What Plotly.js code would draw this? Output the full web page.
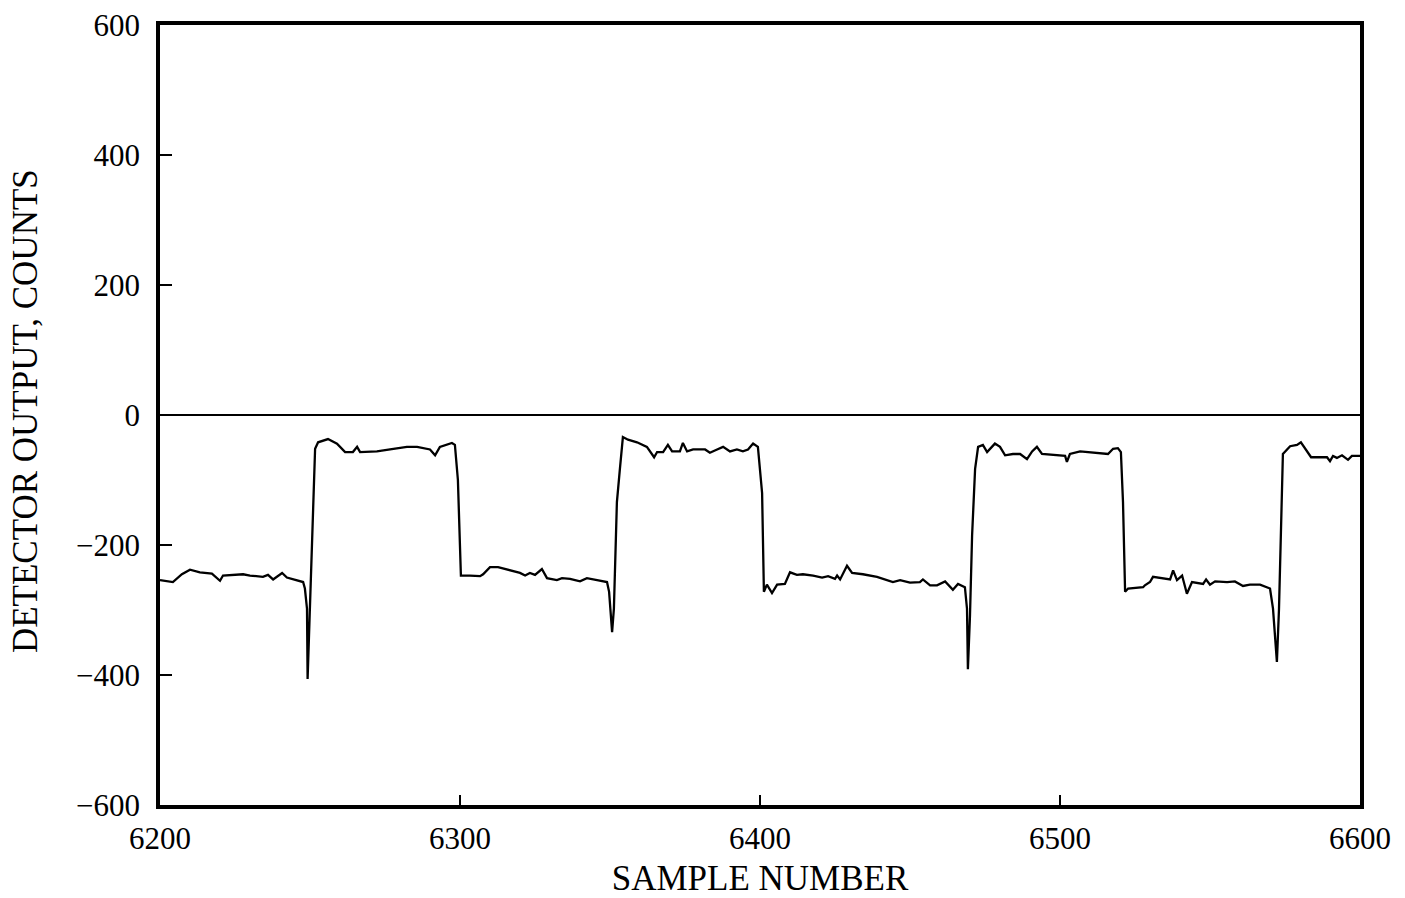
<!DOCTYPE html>
<html>
<head>
<meta charset="utf-8">
<script src="https://cdn.plot.ly/plotly-3.0.1.min.js"></script>
<style>html,body{margin:0;padding:0;background:#fff;}#chart{width:1405px;height:898px;}</style>
</head>
<body>
<div id="chart"></div>
<script>
// Sample numbers (x) and detector output in counts (y)
const sampleNumber = [
  6200, 6204.3, 6207.3, 6210, 6213.3, 6217.3, 6220, 6221, 6227.7, 6230,
  6234.3, 6236, 6237.7, 6240.7, 6242.3, 6245.7, 6247.7, 6248.3, 6249, 6249.2,
  6249.7, 6250.3, 6251, 6251.7, 6252.7, 6256, 6259, 6261.7, 6264.3, 6265.7,
  6266.7, 6272.3, 6276.7, 6282.3, 6285.7, 6290, 6291.7, 6293.3, 6297.3, 6298.3,
  6299.3, 6300.3, 6303.3, 6306.7, 6307.7, 6310, 6312.7, 6316.7, 6320, 6321.7,
  6323.3, 6325, 6327.3, 6329, 6332.3, 6334, 6336.7, 6340, 6342.3, 6345.7,
  6349, 6349.7, 6350.7, 6351.3, 6352.3, 6353.3, 6354, 6354.3, 6356, 6359,
  6362.3, 6364, 6364.7, 6365.7, 6367.7, 6369.3, 6370.7, 6373.3, 6374.3, 6375.7,
  6377.7, 6381.7, 6383.3, 6385.7, 6387.7, 6390, 6392.3, 6394.3, 6396, 6397.7,
  6399.3, 6400.7, 6401.3, 6402.3, 6404, 6405.7, 6408.3, 6410, 6412.3, 6414.3,
  6417.7, 6420.7, 6422.7, 6425, 6425.7, 6426.7, 6429, 6430.7, 6434.3, 6439,
  6442.3, 6444.3, 6446.7, 6450, 6453.3, 6454.3, 6456.7, 6459, 6461.7, 6464.3,
  6466, 6468.3, 6469, 6469.3, 6470, 6470.7, 6471.7, 6472.7, 6474.3, 6475.7,
  6478.3, 6480, 6481.7, 6484.3, 6486.7, 6489, 6490.7, 6492.3, 6494, 6499,
  6501.7, 6502.3, 6503.3, 6506.7, 6512.3, 6516, 6517.7, 6519.3, 6520.3, 6521,
  6521.7, 6522.7, 6527.7, 6528.3, 6530, 6531, 6536.7, 6537.7, 6539, 6540.7,
  6542.3, 6544, 6547.7, 6548.7, 6550, 6551.7, 6555.7, 6558.3, 6561, 6563.3,
  6566.7, 6570, 6571, 6572.3, 6573, 6573.7, 6574.3, 6576.7, 6579, 6580.3,
  6581.7, 6583.7, 6589, 6590, 6591, 6592.3, 6594, 6596, 6597.3, 6600
];
const detectorOutput = [
  -254, -257, -245, -238, -242, -244, -255, -247, -245, -247,
  -249, -246, -253, -243, -250, -254, -257, -267, -298, -406,
  -329, -237, -134, -52, -42, -37, -44, -57, -57, -49,
  -57, -56, -53, -49, -49, -53, -62, -49, -43, -46,
  -100, -247, -247, -248, -245, -234, -234, -239, -243, -247,
  -243, -246, -237, -251, -254, -251, -252, -256, -251, -254,
  -257, -272, -334, -298, -134, -83, -38, -34, -38, -42,
  -49, -60, -65, -57, -57, -46, -56, -56, -43, -56,
  -53, -53, -58, -53, -49, -56, -53, -56, -53, -44,
  -49, -120, -272, -261, -274, -261, -260, -242, -246, -245,
  -247, -250, -248, -252, -247, -253, -232, -243, -245, -249,
  -254, -257, -254, -258, -257, -253, -262, -262, -256, -269,
  -260, -265, -298, -391, -308, -185, -83, -49, -46, -57,
  -44, -49, -62, -60, -60, -68, -56, -49, -60, -62,
  -63, -72, -60, -56, -58, -60, -52, -51, -57, -134,
  -272, -267, -265, -262, -257, -249, -253, -239, -254, -247,
  -275, -257, -260, -253, -261, -256, -257, -256, -263, -261,
  -261, -267, -298, -380, -298, -145, -60, -48, -46, -42,
  -52, -65, -65, -71, -63, -66, -62, -69, -63, -63
];
const xTickVals = [6200, 6300, 6400, 6500, 6600];
const yTickVals = [-600, -400, -200, 0, 200, 400, 600];
const xTitle = 'SAMPLE NUMBER';
const yTitle = 'DETECTOR OUTPUT, COUNTS';

const serif = '"Liberation Serif", "DejaVu Serif", serif';

Plotly.newPlot('chart', [{
  x: sampleNumber,
  y: detectorOutput,
  type: 'scatter',
  mode: 'lines',
  line: {color: '#000', width: 2.3},
  hoverinfo: 'x+y'
}], {
  width: 1405,
  height: 898,
  margin: {l: 160, r: 45, t: 25, b: 93},
  paper_bgcolor: '#fff',
  plot_bgcolor: '#fff',
  showlegend: false,
  font: {family: serif, color: '#000', size: 31},
  xaxis: {
    range: [6200, 6600],
    tickvals: xTickVals,
    ticks: 'inside',
    ticklen: 10,
    tickwidth: 2,
    tickcolor: '#000',
    showline: true,
    linecolor: '#000',
    linewidth: 3.5,
    mirror: true,
    showgrid: false,
    zeroline: false,
    tickfont: {family: serif, size: 31, color: '#000'},
    ticklabelstandoff: 3,
    title: {text: xTitle, font: {family: serif, size: 35, color: '#000'}, standoff: 13}
  },
  yaxis: {
    range: [-600, 600],
    tickvals: yTickVals,
    ticks: 'inside',
    ticklen: 12,
    tickwidth: 2,
    tickcolor: '#000',
    showline: true,
    linecolor: '#000',
    linewidth: 3.5,
    mirror: true,
    showgrid: false,
    zeroline: true,
    zerolinecolor: '#000',
    zerolinewidth: 2,
    tickfont: {family: serif, size: 31, color: '#000'},
    ticklabelstandoff: 10
  },
  annotations: [{
    text: yTitle,
    xref: 'paper', yref: 'paper',
    x: -0.1125, y: 0.505,
    xanchor: 'center', yanchor: 'middle',
    textangle: -90,
    showarrow: false,
    font: {family: serif, size: 35, color: '#000'}
  }]
}, {displayModeBar: false});
</script>
</body>
</html>
